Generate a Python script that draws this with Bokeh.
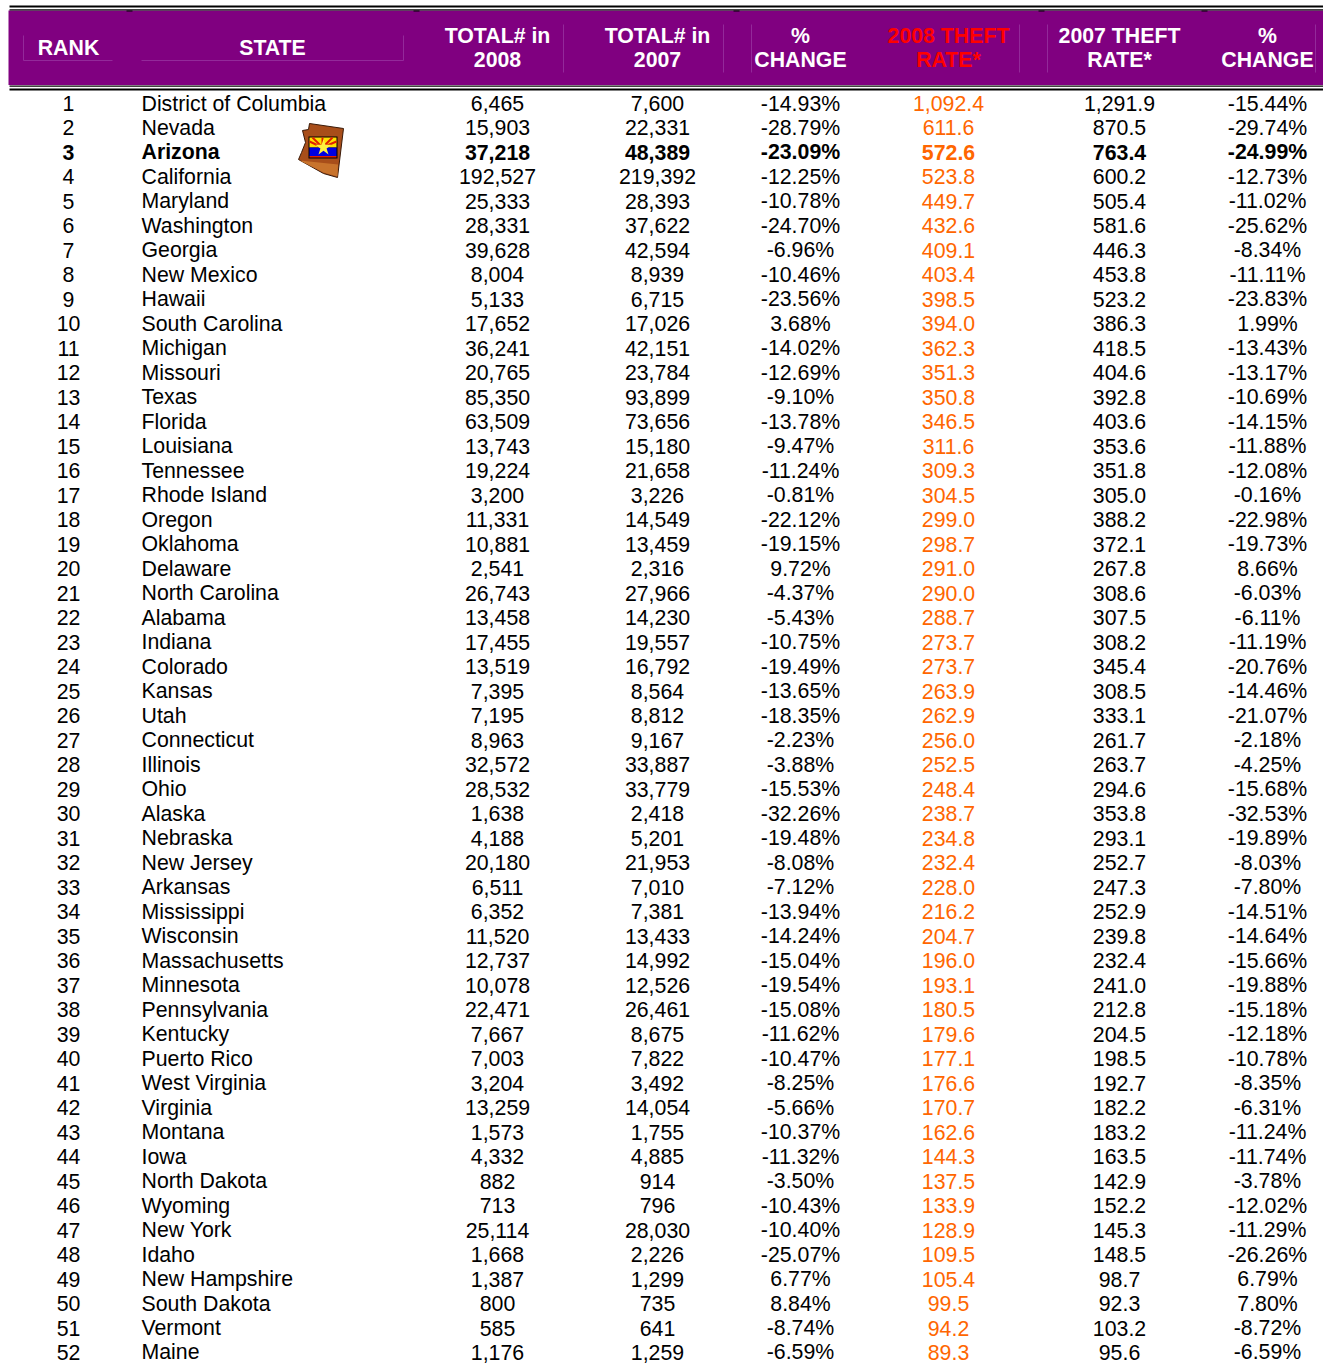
from bokeh.plotting import figure
from bokeh.models import ColumnDataSource, Range1d
from bokeh.embed import file_html
from bokeh.resources import INLINE
from bokeh.core.properties import value

states = ["District of Columbia","Nevada","Arizona","California","Maryland","Washington","Georgia","New Mexico","Hawaii","South Carolina","Michigan","Missouri","Texas","Florida","Louisiana","Tennessee","Rhode Island","Oregon","Oklahoma","Delaware","North Carolina","Alabama","Indiana","Colorado","Kansas","Utah","Connecticut","Illinois","Ohio","Alaska","Nebraska","New Jersey","Arkansas","Mississippi","Wisconsin","Massachusetts","Minnesota","Pennsylvania","Kentucky","Puerto Rico","West Virginia","Virginia","Montana","Iowa","North Dakota","Wyoming","New York","Idaho","New Hampshire","South Dakota","Vermont","Maine"]
total_2008 = ["6,465","15,903","37,218","192,527","25,333","28,331","39,628","8,004","5,133","17,652","36,241","20,765","85,350","63,509","13,743","19,224","3,200","11,331","10,881","2,541","26,743","13,458","17,455","13,519","7,395","7,195","8,963","32,572","28,532","1,638","4,188","20,180","6,511","6,352","11,520","12,737","10,078","22,471","7,667","7,003","3,204","13,259","1,573","4,332","882","713","25,114","1,668","1,387","800","585","1,176"]
total_2007 = ["7,600","22,331","48,389","219,392","28,393","37,622","42,594","8,939","6,715","17,026","42,151","23,784","93,899","73,656","15,180","21,658","3,226","14,549","13,459","2,316","27,966","14,230","19,557","16,792","8,564","8,812","9,167","33,887","33,779","2,418","5,201","21,953","7,010","7,381","13,433","14,992","12,526","26,461","8,675","7,822","3,492","14,054","1,755","4,885","914","796","28,030","2,226","1,299","735","641","1,259"]
change_total = ["-14.93%","-28.79%","-23.09%","-12.25%","-10.78%","-24.70%","-6.96%","-10.46%","-23.56%","3.68%","-14.02%","-12.69%","-9.10%","-13.78%","-9.47%","-11.24%","-0.81%","-22.12%","-19.15%","9.72%","-4.37%","-5.43%","-10.75%","-19.49%","-13.65%","-18.35%","-2.23%","-3.88%","-15.53%","-32.26%","-19.48%","-8.08%","-7.12%","-13.94%","-14.24%","-15.04%","-19.54%","-15.08%","-11.62%","-10.47%","-8.25%","-5.66%","-10.37%","-11.32%","-3.50%","-10.43%","-10.40%","-25.07%","6.77%","8.84%","-8.74%","-6.59%"]
rate_2008 = ["1,092.4","611.6","572.6","523.8","449.7","432.6","409.1","403.4","398.5","394.0","362.3","351.3","350.8","346.5","311.6","309.3","304.5","299.0","298.7","291.0","290.0","288.7","273.7","273.7","263.9","262.9","256.0","252.5","248.4","238.7","234.8","232.4","228.0","216.2","204.7","196.0","193.1","180.5","179.6","177.1","176.6","170.7","162.6","144.3","137.5","133.9","128.9","109.5","105.4","99.5","94.2","89.3"]
rate_2007 = ["1,291.9","870.5","763.4","600.2","505.4","581.6","446.3","453.8","523.2","386.3","418.5","404.6","392.8","403.6","353.6","351.8","305.0","388.2","372.1","267.8","308.6","307.5","308.2","345.4","308.5","333.1","261.7","263.7","294.6","353.8","293.1","252.7","247.3","252.9","239.8","232.4","241.0","212.8","204.5","198.5","192.7","182.2","183.2","163.5","142.9","152.2","145.3","148.5","98.7","92.3","103.2","95.6"]
change_rate = ["-15.44%","-29.74%","-24.99%","-12.73%","-11.02%","-25.62%","-8.34%","-11.11%","-23.83%","1.99%","-13.43%","-13.17%","-10.69%","-14.15%","-11.88%","-12.08%","-0.16%","-22.98%","-19.73%","8.66%","-6.03%","-6.11%","-11.19%","-20.76%","-14.46%","-21.07%","-2.18%","-4.25%","-15.68%","-32.53%","-19.89%","-8.03%","-7.80%","-14.51%","-14.64%","-15.66%","-19.88%","-15.18%","-12.18%","-10.78%","-8.35%","-6.31%","-11.24%","-11.74%","-3.78%","-12.02%","-11.29%","-26.26%","6.79%","7.80%","-8.72%","-6.59%"]
ranks = [str(i + 1) for i in range(52)]
highlight_rank = 3

FONT = "Liberation Sans"
PURPLE = "#800080"
ORANGE = "#FF6600"

W, H = 1323, 1364
p = figure(width=W, height=H, output_backend="svg", toolbar_location=None,
           x_range=Range1d(0, W), y_range=Range1d(H, 0), min_border=0)
p.axis.visible = False
p.grid.visible = False
p.outline_line_color = None
p.background_fill_color = "white"
p.border_fill_color = "white"

# header band
p.quad(left=8, right=1323, top=10, bottom=84.5, fill_color=PURPLE, line_color=None)
# rules
p.quad(left=9, right=1323, top=5, bottom=7, fill_color="black", line_color=None)
p.quad(left=9, right=1323, top=8.7, bottom=10, fill_color="black", line_color=None)
p.quad(left=9, right=1323, top=85, bottom=86.3, fill_color="black", line_color=None)
p.quad(left=9, right=1323, top=88, bottom=90, fill_color="black", line_color=None)
# small notches at the column joints
for nx in [129, 416, 736, 1041, 1204]:
    p.quad(left=nx - 3, right=nx + 3, top=10, bottom=11, fill_color="black", line_color=None)

# faint cell borders in the header
FAINT = "#93299a"
for x0, x1 in [(23, 112), (141, 403)]:
    p.segment(x0=x0, x1=x1, y0=60, y1=60, line_color=FAINT, line_width=1)
for vx, y0, y1 in [(23, 35, 60), (403, 35, 60), (563, 24, 72), (723, 24, 72), (751, 24, 72),
                   (1019, 24, 72), (1047, 24, 72), (1315, 24, 72)]:
    p.segment(x0=vx, x1=vx, y0=y0, y1=y1, line_color=FAINT, line_width=1)

# header labels
head = ColumnDataSource(dict(
    x=[68, 272, 497, 497, 657, 657, 800, 800, 948, 948, 1119, 1119, 1267, 1267],
    y=[47, 47, 35, 59, 35, 59, 35, 59, 35, 59, 35, 59, 35, 59],
    t=["RANK", "STATE", "TOTAL# in", "2008", "TOTAL# in", "2007", "%", "CHANGE",
       "2008 THEFT", "RATE*", "2007 THEFT", "RATE*", "%", "CHANGE"],
    c=["white"] * 8 + ["#FF0000"] * 2 + ["white"] * 4,
))
p.text(x="x", y="y", text="t", text_color="c", source=head, text_align="center",
       text_baseline="middle", text_font=value(FONT), text_font_style="bold", text_font_size="21.3px")

# body
row_y = [103 + i * 24.49 for i in range(52)]
cols = [(ranks, 68, "center", "black"), (states, 141, "left", "black"),
        (total_2008, 497, "center", "black"), (total_2007, 657, "center", "black"),
        (change_total, 800, "center", "black"), (rate_2008, 948, "center", ORANGE),
        (rate_2007, 1119, "center", "black"), (change_rate, 1267, "center", "black")]
for vals, x, align, color in cols:
    normal = [i for i in range(52) if i != highlight_rank - 1]
    src = ColumnDataSource(dict(x=[x] * 51, y=[row_y[i] for i in normal], t=[vals[i] for i in normal]))
    p.text(x="x", y="y", text="t", source=src, text_align=align, text_baseline="middle",
           text_color=color, text_font=value(FONT), text_font_size="21.3px")
    i = highlight_rank - 1
    src = ColumnDataSource(dict(x=[x], y=[row_y[i]], t=[vals[i]]))
    p.text(x="x", y="y", text="t", source=src, text_align=align, text_baseline="middle",
           text_color=color, text_font=value(FONT), text_font_style="bold", text_font_size="21.3px")

# Arizona icon
p.patch([309, 343, 337, 323, 298, 301, 305, 302, 308],
        [123, 128, 177, 173, 159, 152, 142, 130, 129],
        fill_color="#A84E1A", line_color="#3a1a08", line_width=1)
p.patch([299, 337.5, 337, 323], [160, 164, 176, 172], fill_color="#C8732C", line_color=None)
p.quad(left=308, right=337, top=136, bottom=158, fill_color="black", line_color=None)
p.quad(left=309, right=336, top=137, bottom=147, fill_color="#FFE000", line_color=None)
p.quad(left=309, right=336, top=147, bottom=155.5, fill_color="#0000E0", line_color=None)
p.quad(left=309, right=336, top=155.5, bottom=157, fill_color="#E02000", line_color=None)
p.segment(x0=[322] * 5, y0=[147] * 5, x1=[309, 312, 322, 332, 336], y1=[141, 137, 137, 137, 141],
          line_color="#E02000", line_width=2)
p.scatter(x=[323], y=[147], marker="star", size=17, fill_color="#FFF040", line_color=None)

open("out.html", "w").write(file_html(p, INLINE))
